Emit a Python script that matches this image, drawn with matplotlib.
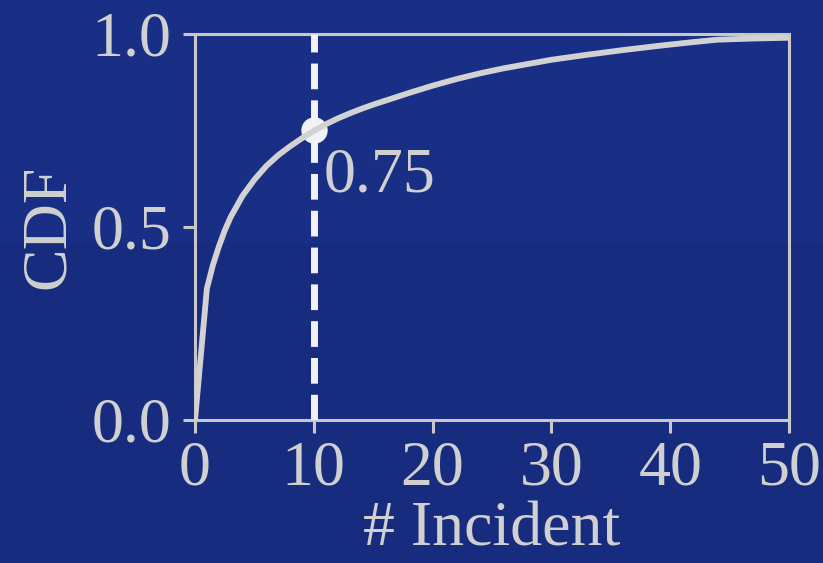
import matplotlib
matplotlib.use("Agg")
import matplotlib.pyplot as plt
from matplotlib.patches import Rectangle

# ---- data ----
incidents = [0, 1, 1.5, 2, 2.5, 3, 4, 5, 6, 7, 8, 9, 10, 11, 12, 13, 14, 15, 16, 18, 20,
             22, 24, 26, 28, 30, 33, 36, 39, 42, 44, 47, 50]
cdf = [0, 0.34, 0.40, 0.448, 0.49, 0.525, 0.58, 0.622, 0.657, 0.685, 0.708, 0.729, 0.748,
       0.765, 0.78, 0.793, 0.805, 0.816, 0.826, 0.846, 0.865, 0.882, 0.897, 0.91, 0.921,
       0.932, 0.945, 0.957, 0.968, 0.978, 0.984, 0.987, 0.989]
mark_x = 10
mark_y = 0.75
mark_label = "0.75"
xticks = [0, 10, 20, 30, 40, 50]
yticks = [0.0, 0.5, 1.0]
ytick_labels = ["0.0", "0.5", "1.0"]

BG_TOP = "#192f85"
BG_BOT = "#172c7f"
FG = "#d0d0d0"

plt.rcParams['font.family'] = ['Liberation Serif', 'DejaVu Serif']

fig = plt.figure(figsize=(8.23, 5.63), dpi=100)
fig.patch.set_facecolor(BG_BOT)
fig.patches.append(Rectangle((0, 1 - 243 / 563), 1, 243 / 563, transform=fig.transFigure,
                             facecolor=BG_TOP, edgecolor='none', zorder=-10))

ax = fig.add_axes([195 / 823, 1 - 420 / 563, (789 - 195) / 823, (420 - 33.5) / 563])
ax.patch.set_alpha(0)

ax.plot([mark_x], [mark_y], 'o', color='#f2f2f6', markersize=18, zorder=2, clip_on=False)
ax.plot(incidents, cdf, color='#d2d2d2', lw=4.2, zorder=3, solid_capstyle='butt',
        solid_joinstyle='round')
ax.plot([mark_x, mark_x], [0, 1], color='#f2f2f6', lw=5, ls='--', zorder=4)

ax.text(mark_x + 0.8, mark_y - 0.045, mark_label, fontsize=46, color=FG, ha='left', va='top')

ax.set_xlim(0, 50)
ax.set_ylim(0, 1)
ax.set_xticks(xticks)
ax.set_yticks(yticks)
ax.set_yticklabels(ytick_labels)

for s in ax.spines.values():
    s.set_color('#c8c8c8')
    s.set_linewidth(2.2)
ax.tick_params(axis='both', direction='out', colors='#c8c8c8', labelcolor=FG, labelsize=46,
               length=9, width=2.2)
ax.tick_params(axis='x', pad=6)
ax.tick_params(axis='y', pad=8)

ax.set_xlabel("# Incident", fontsize=46, color=FG, labelpad=2)
ax.set_ylabel("CDF", fontsize=46, color=FG, labelpad=10)

fig.savefig("out.png", dpi=100, facecolor=fig.get_facecolor())
